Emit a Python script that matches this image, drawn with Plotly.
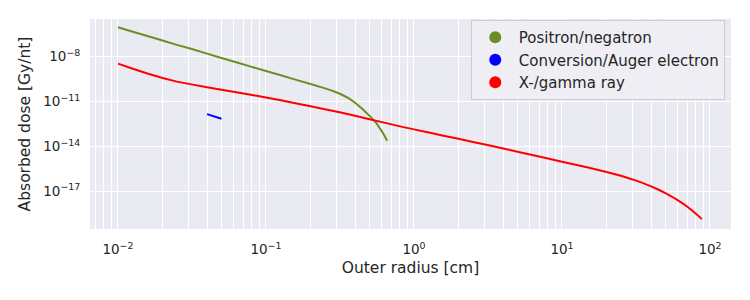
import plotly.graph_objects as go

# Positron/negatron
pos_r = [0.01, 0.0126, 0.0158, 0.02, 0.025, 0.032, 0.04, 0.05, 0.063, 0.079, 0.1, 0.126, 0.158, 0.2,
         0.251, 0.282, 0.316, 0.355, 0.398, 0.447, 0.501, 0.557, 0.603, 0.631, 0.658]
pos_logd = [-6.04, -6.34, -6.63, -6.93, -7.22, -7.51, -7.80, -8.09, -8.38, -8.67, -8.96, -9.25, -9.54, -9.83,
            -10.12, -10.29, -10.48, -10.73, -11.06, -11.48, -11.96, -12.44, -12.95, -13.27, -13.62]

# Conversion/Auger electron
ce_r = [0.04, 0.05]
ce_logd = [-11.84, -12.15]

# X-/gamma ray
xg_r = [0.01, 0.0126, 0.0158, 0.02, 0.025, 0.032, 0.04, 0.05, 0.063, 0.079, 0.1, 0.126, 0.158, 0.2, 0.25,
        0.32, 0.4, 0.5, 0.63, 0.79, 1.0, 1.26, 1.58, 2.0, 2.5, 3.2, 4.0, 5.0, 6.3, 7.9, 10.0,
        15.0, 20.0, 25.0, 30.0, 35.0, 40.0, 45.0, 50.0, 55.0, 60.0, 65.0, 70.0, 75.0, 80.0, 85.0, 88.0]
xg_logd = [-8.47, -8.81, -9.13, -9.43, -9.67, -9.87, -10.05, -10.22, -10.38, -10.55, -10.73, -10.92, -11.12, -11.32, -11.52,
           -11.73, -11.95, -12.18, -12.41, -12.64, -12.86, -13.07, -13.28, -13.49, -13.7, -13.92, -14.13, -14.35, -14.57, -14.79, -15.02,
           -15.41, -15.70, -15.96, -16.20, -16.43, -16.66, -16.89, -17.12, -17.34, -17.56, -17.78, -18.01, -18.24, -18.47, -18.7, -18.85]

x_ticks = [0.01, 0.1, 1, 10, 100]
x_ticktext = ["10<sup>\u22122</sup>", "10<sup>\u22121</sup>", "10<sup>0</sup>", "10<sup>1</sup>", "10<sup>2</sup>"]
y_ticks = [1e-8, 1e-11, 1e-14, 1e-17]
y_ticktext = ["10<sup>\u22128</sup>", "10<sup>\u221211</sup>", "10<sup>\u221214</sup>", "10<sup>\u221217</sup>"]

series = [
    ("Positron/negatron", pos_r, pos_logd, "#6B8E23"),
    ("Conversion/Auger electron", ce_r, ce_logd, "#0000FF"),
    ("X-/gamma ray", xg_r, xg_logd, "#FF0000"),
]

fig = go.Figure()
for name, r, ld, col in series:
    fig.add_trace(go.Scatter(x=r, y=[10 ** v for v in ld], mode="lines",
                             line=dict(color=col, width=2, simplify=False),
                             showlegend=False, name=name))
for name, r, ld, col in series:
    fig.add_trace(go.Scatter(x=[None], y=[None], mode="markers",
                             marker=dict(color=col, size=8), name=name))

minor_x = []
for dec in [0.001, 0.01, 0.1, 1, 10, 100]:
    for k in range(2, 10):
        minor_x.append(dec * k)

font = "DejaVu Sans"
fig.update_layout(
    width=750, height=300,
    margin=dict(l=90, r=19, t=19, b=71),
    paper_bgcolor="white", plot_bgcolor="#EAEAF2",
    font=dict(family=font, color="#262626", size=13.5),
    showlegend=True,
    legend=dict(x=0.594, y=0.995, xanchor="left", yanchor="top",
                bgcolor="rgba(238,238,244,0.9)", bordercolor="#CCCCCC", borderwidth=1,
                font=dict(size=15, color="#262626"), itemsizing="constant", itemwidth=37,
                tracegroupgap=0),
)
fig.update_xaxes(type="log", range=[-2.189, 2.142],
                 tickvals=x_ticks, ticktext=x_ticktext,
                 showgrid=True, gridcolor="white", gridwidth=1.3,
                 ticks="outside", ticklen=8, tickcolor="rgba(0,0,0,0)",
                 zeroline=False, showline=False,
                 minor=dict(tickvals=minor_x, showgrid=True, gridcolor="white", gridwidth=0.8, ticks=""),
                 title=dict(text="Outer radius [cm]", font=dict(size=15.5), standoff=5))
fig.update_yaxes(type="log", range=[-19.51, -5.49],
                 tickvals=y_ticks, ticktext=y_ticktext,
                 showgrid=True, gridcolor="white", gridwidth=1.3,
                 ticks="outside", ticklen=6, tickcolor="rgba(0,0,0,0)",
                 zeroline=False, showline=False,
                 title=dict(text="Absorbed dose [Gy/nt]", font=dict(size=15.5), standoff=8))

fig.write_html("out.html")
